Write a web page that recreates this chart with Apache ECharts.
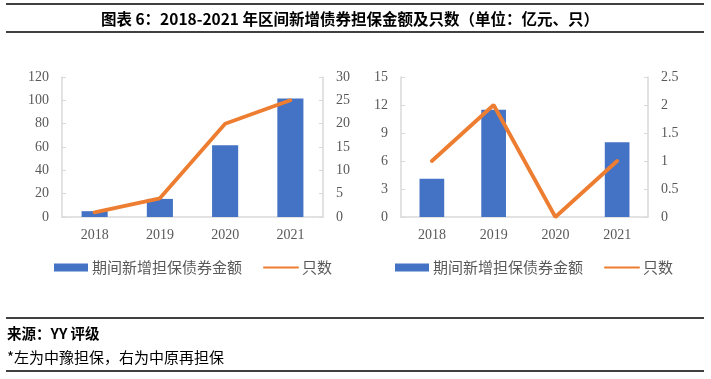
<!DOCTYPE html>
<html><head><meta charset="utf-8">
<script src="https://cdn.jsdelivr.net/npm/echarts@6/dist/echarts.min.js"></script>
<style>html,body{margin:0;padding:0;background:#fff}#c{width:711px;height:379px}</style>
</head><body><div id="c"></div>
<script>
var categories = ['2018', '2019', '2020', '2021'];
var leftAmount = [5, 15.5, 61.5, 101.5];
var leftCount = [1, 4, 20, 25];
var rightAmount = [4.1, 11.5, 0, 8];
var rightCount = [1, 2, 0, 1];
var barName = '期间新增担保债券金额';
var lineName = '只数';
var titleText = '图表 6：2018-2021 年区间新增债券担保金额及只数（单位：亿元、只）';
var sourceText = '来源：YY 评级';
var noteText = '*左为中豫担保，右为中原再担保';

var chart = echarts.init(document.getElementById('c'), null, {renderer: 'canvas'});
var gray = '#595959';
var axisColor = '#D9D9D9';
var serif = 'Liberation Serif';
var cjk = 'Noto Sans CJK SC';

function yAx(pos, max, interval, gridIdx) {
  return {
    type: 'value', gridIndex: gridIdx, position: pos, min: 0, max: max, interval: interval,
    splitLine: {show: false},
    axisLine: {show: true, lineStyle: {color: axisColor, width: 1.5}},
    axisTick: {show: true, inside: true, length: 4, lineStyle: {color: axisColor, width: 1}},
    axisLabel: {color: gray, fontFamily: serif, fontSize: 14, margin: 13}
  };
}
function xAx(gridIdx) {
  return {
    type: 'category', gridIndex: gridIdx, data: categories,
    axisLine: {show: true, lineStyle: {color: axisColor, width: 1.5}},
    axisTick: {show: false},
    axisLabel: {color: gray, fontFamily: serif, fontSize: 14, margin: 11}
  };
}
function legend(left) {
  return {
    left: left, top: 260, padding: 0, itemWidth: 34, itemHeight: 8, itemGap: 21,
    textStyle: {color: gray, fontFamily: cjk, fontSize: 15, padding: [0, 0, 0, -1]},
    data: [{name: barName, icon: 'rect'}, {name: lineName, itemStyle: {opacity: 0}}]
  };
}
var lineStyle = {color: '#ED7D31', width: 3.8, cap: 'round'};

chart.setOption({
  animation: false,
  grid: [
    {left: 62, top: 77, width: 261, height: 140},
    {left: 401, top: 77, width: 247, height: 140}
  ],
  xAxis: [xAx(0), xAx(1)],
  yAxis: [yAx('left', 120, 20, 0), yAx('right', 30, 5, 0), yAx('left', 15, 3, 1), yAx('right', 2.5, 0.5, 1)],
  legend: [legend(54), legend(395)],
  series: [
    {name: barName, type: 'bar', xAxisIndex: 0, yAxisIndex: 0, data: leftAmount, barWidth: '40%', itemStyle: {color: '#4472C4'}},
    {name: lineName, type: 'line', xAxisIndex: 0, yAxisIndex: 1, data: leftCount, symbol: 'none', lineStyle: lineStyle, itemStyle: {color: '#ED7D31'}},
    {name: barName, type: 'bar', xAxisIndex: 1, yAxisIndex: 2, data: rightAmount, barWidth: '40%', itemStyle: {color: '#4472C4'}},
    {name: lineName, type: 'line', xAxisIndex: 1, yAxisIndex: 3, data: rightCount, symbol: 'none', lineStyle: lineStyle, itemStyle: {color: '#ED7D31'}}
  ],
  graphic: [
    {type: 'line', shape: {x1: 6, y1: 4, x2: 704, y2: 4}, style: {stroke: '#000', lineWidth: 1.5}},
    {type: 'line', shape: {x1: 6, y1: 32, x2: 704, y2: 32}, style: {stroke: '#000', lineWidth: 1.5}},
    {type: 'text', x: 350, y: 19, style: {text: titleText, fill: '#000', font: 'bold 15.5px "Noto Sans CJK SC"', align: 'center', verticalAlign: 'middle'}},
    {type: 'line', shape: {x1: 6, y1: 318, x2: 704, y2: 318}, style: {stroke: '#000', lineWidth: 1.5}},
    {type: 'text', x: 7, y: 333, style: {text: sourceText, fill: '#000', font: 'bold 14.5px "Noto Sans CJK SC"', align: 'left', verticalAlign: 'middle'}},
    {type: 'text', x: 7, y: 357, style: {text: noteText, fill: '#000', font: '15px "Noto Sans CJK SC"', align: 'left', verticalAlign: 'middle'}},
    {type: 'line', shape: {x1: 6, y1: 371, x2: 704, y2: 371}, style: {stroke: '#000', lineWidth: 1.5}}
  ]
});
</script></body></html>
